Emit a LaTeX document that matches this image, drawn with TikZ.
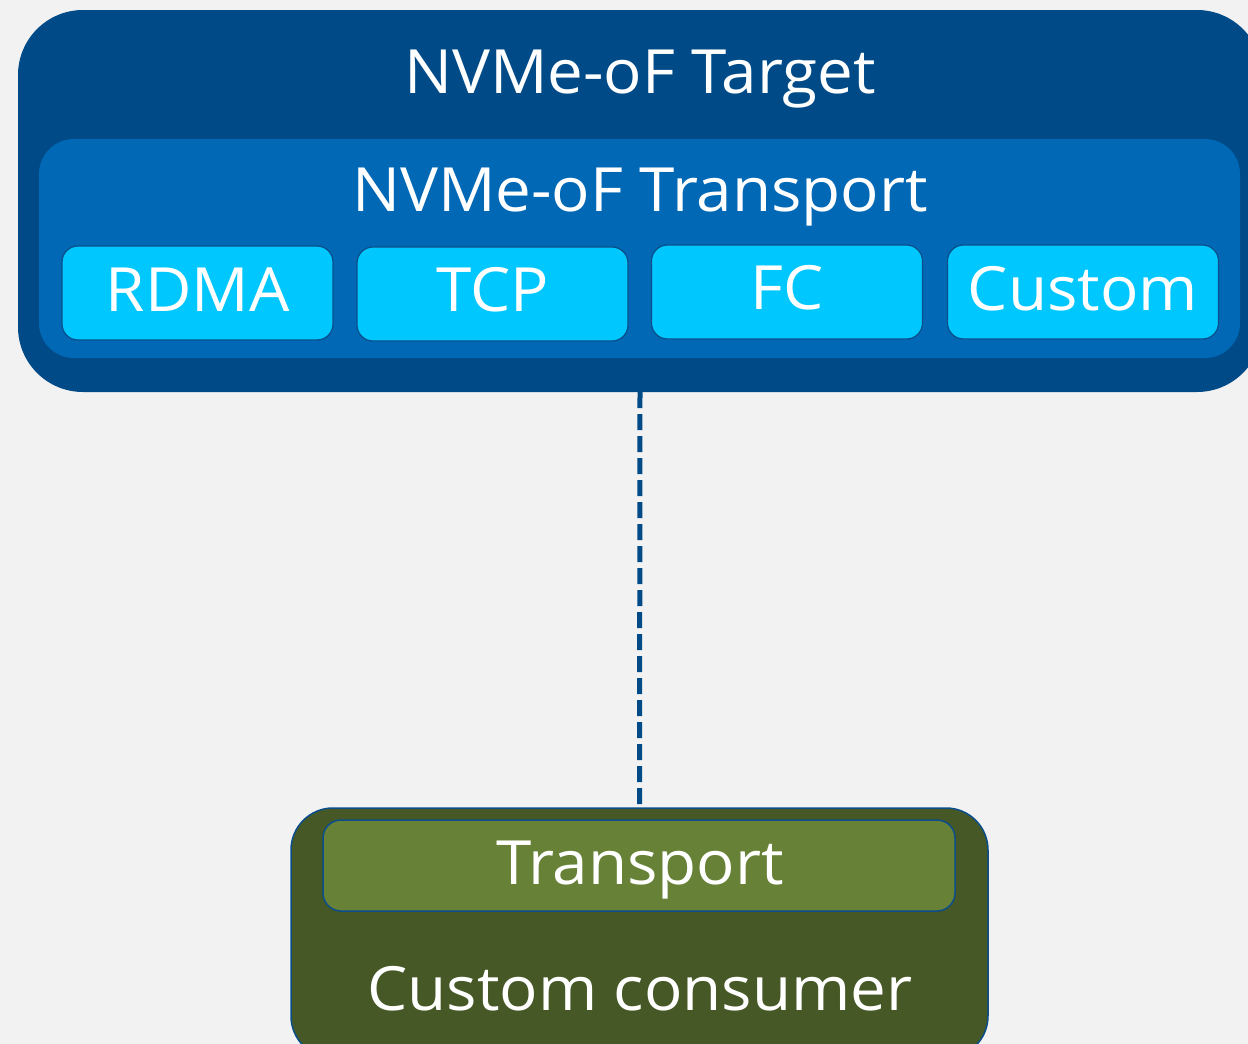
\documentclass[tikz,border=0pt]{standalone}
\usepackage{fontspec}
\setmainfont{Open Sans}[FakeStretch=1.045]
\definecolor{bgc}{HTML}{F2F2F2}
\definecolor{outerc}{HTML}{004B87}
\definecolor{innerc}{HTML}{0068B5}
\definecolor{cyanc}{HTML}{00C7FD}
\definecolor{edgec}{HTML}{0B4E8A}
\definecolor{darkgreen}{HTML}{465825}
\definecolor{olive}{HTML}{678137}
\tikzset{
  box/.style={draw=none, inner sep=0pt, outer sep=0pt},
  chip/.style={box, fill=cyanc, draw=edgec, line width=1.2pt, rounded corners=16pt, minimum width=271pt, minimum height=94pt},
  lbl/.style={text=white, inner sep=0pt, anchor=base, font=\fontsize{61}{66}\selectfont},
}
\begin{document}
\begin{tikzpicture}[x=1pt, y=-1pt]
\useasboundingbox (0,0) rectangle (1248,1044);
\clip (0,0) rectangle (1248,1044);
\fill[bgc] (0,0) rectangle (1248,1044);

\node[box, fill=outerc, rounded corners=65pt, minimum width=1244pt, minimum height=382pt] (outer) at (640,201) {};
\node[box, fill=innerc, rounded corners=35pt, minimum width=1201pt, minimum height=219pt] (trans) at (639.5,248.5) {};
\node[lbl] (tgtlbl) at (640,93) {NVMe-oF Target};
\node[lbl] (trlbl) at (640,211) {NVMe-oF Transport};

\node[chip] (rdma) at (197.5,293) {};
\node[chip] (tcp) at (492.5,294) {};
\node[chip] (fc) at (787,292) {};
\node[chip] (cust) at (1083,292) {};
\node[lbl] (rdmal) at (197.5,311) {RDMA};
\node[lbl] (tcpl) at (492.5,311) {TCP};
\node[lbl] (fcl) at (787,309) {FC};
\node[lbl] (custl) at (1083,310) {Custom};

\node[box, fill=darkgreen, draw=edgec, line width=1.5pt, rounded corners=42pt, minimum width=697pt, minimum height=250pt] (cons) at (639.5,933) {};
\node[box, fill=olive, draw=edgec, line width=1.5pt, rounded corners=18pt, minimum width=632pt, minimum height=91pt] (ctr) at (639,865.5) {};
\node[lbl] (ctrl) at (640,884) {Transport};
\node[lbl] (consl) at (640,1010) {Custom consumer};

\draw[outerc, line width=5pt, dash pattern=on 16pt off 6pt] (outer.south) -- (cons.north);
\end{tikzpicture}
\end{document}
